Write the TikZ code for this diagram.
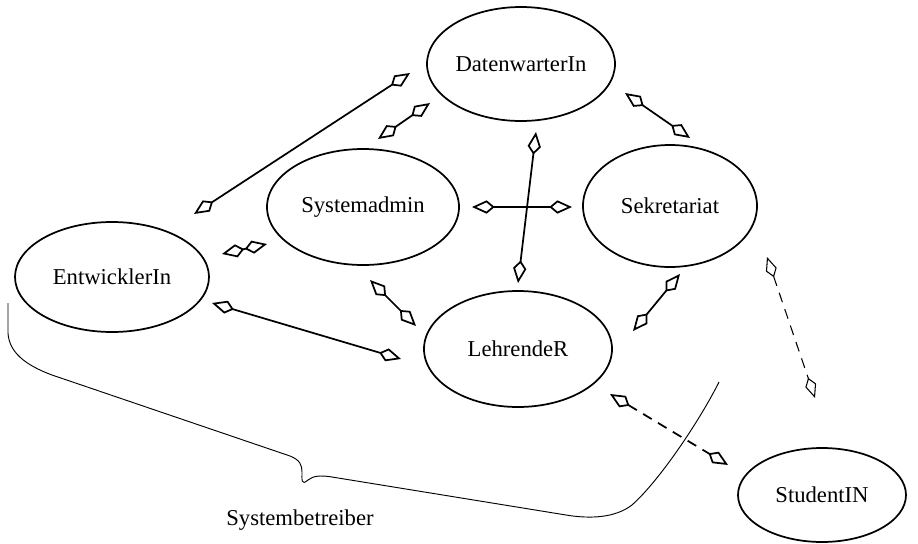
\documentclass[tikz,border=0pt]{standalone}
\usepackage{fontspec}
\setmainfont{Liberation Serif}
\usetikzlibrary{shapes.geometric,arrows.meta}
\begin{document}
\begin{tikzpicture}[x=0.75pt,y=-0.75pt,
  actor/.style={ellipse, draw, line width=1.3pt, inner sep=0pt, font=\fontsize{17}{20}\selectfont},
  kitelink/.style={{Kite[open,fill=white,length=17pt,width=10pt,inset=6pt]}-{Kite[open,fill=white,length=17pt,width=10pt,inset=6pt]}, line width=1.3pt},
  thinkite/.style={{Kite[open,fill=white,length=16pt,width=8.5pt,inset=6pt]}-{Kite[open,fill=white,length=16pt,width=8.5pt,inset=6pt]}, line width=0.8pt},
  dashlink/.style={dash pattern=on 7.5pt off 5.5pt},
  bracepath/.style={line width=0.7pt}
]
\useasboundingbox (0,0) rectangle (918,543);

\node[actor, minimum width=141pt, minimum height=85.5pt] (daten) at (521,64) {DatenwarterIn};
\node[actor, minimum width=144pt, minimum height=87pt] (sys) at (363,207) {Systemadmin};
\node[actor, minimum width=130.5pt, minimum height=91.5pt] (sek) at (670,206) {Sekretariat};
\node[actor, minimum width=145.5pt, minimum height=82.5pt] (ent) at (112,277) {EntwicklerIn};
\node[actor, minimum width=141pt, minimum height=87pt] (leh) at (518,349) {LehrendeR};
\node[actor, minimum width=126pt, minimum height=70.5pt] (stu) at (822,495) {StudentIN};
\node[font=\fontsize{17}{20}\selectfont] (betr) at (300,520) {Systembetreiber};

% connector end points
\coordinate (ed1) at (194,214); \coordinate (ed2) at (410,73);
\coordinate (sd1) at (378,139); \coordinate (sd2) at (430,103);
\coordinate (dk1) at (625,93);  \coordinate (dk2) at (690,138);
\coordinate (ss1) at (472,207); \coordinate (ss2) at (572,207);
\coordinate (dl1) at (536,132); \coordinate (dl2) at (518,283);
\coordinate (es1) at (222,254); \coordinate (es2) at (267,244);
\coordinate (el1) at (212,303); \coordinate (el2) at (401,359);
\coordinate (sl1) at (370,280); \coordinate (sl2) at (416,326);
\coordinate (kl1) at (680,274); \coordinate (kl2) at (633,331);
\coordinate (ks1) at (767,257); \coordinate (ks2) at (815,398);
\coordinate (ls1) at (610,394); \coordinate (ls2) at (728,465);

\draw[kitelink] (ed1) -- (ed2);
\draw[kitelink] (sd1) -- (sd2);
\draw[kitelink] (dk1) -- (dk2);
\draw[kitelink] (ss1) -- (ss2);
\draw[kitelink] (dl1) -- (dl2);
\draw[kitelink] (es1) -- (es2);
\draw[kitelink] (el1) -- (el2);
\draw[kitelink] (sl1) -- (sl2);
\draw[kitelink] (kl1) -- (kl2);
\draw[thinkite, dashlink] (ks1) -- (ks2);
\draw[kitelink, dashlink] (ls1) -- (ls2);

% brace
\coordinate (b0) at (8,303);
\coordinate (b9) at (719,382);
\draw[bracepath] (b0) -- (8,333) .. controls (9,352) and (25,365) .. (52,375)
  -- (290,456) .. controls (300,460) and (302,465) .. (302,472)
  .. controls (302,480) and (301,486) .. (308,480)
  .. controls (313,476) and (320,475) .. (332,477)
  -- (566,515) .. controls (590,519) and (615,518) .. (632,505)
  .. controls (660,480) and (700,420) .. (b9);
\end{tikzpicture}
\end{document}
